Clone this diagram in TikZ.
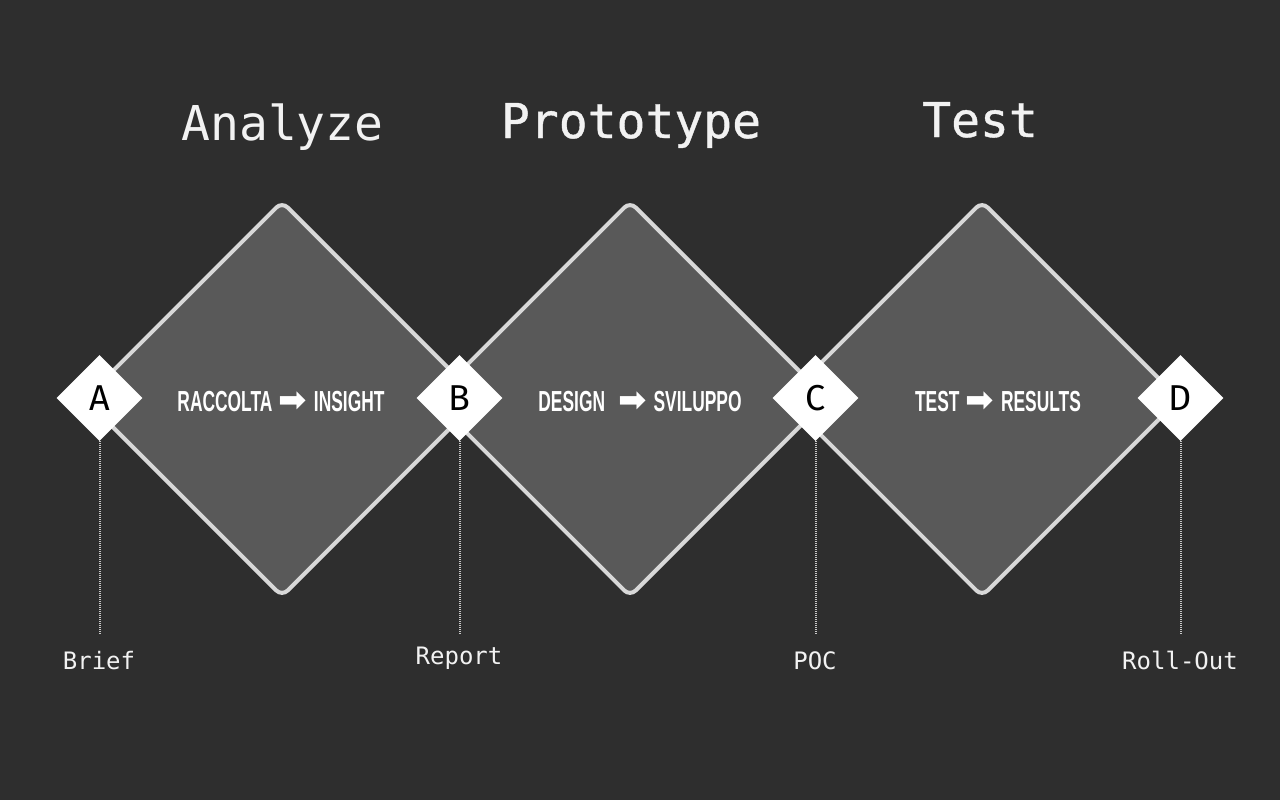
\documentclass[tikz,border=0pt]{standalone}
\usepackage{fontspec}
\usetikzlibrary{shapes.geometric}
\newfontfamily\monofont{DejaVu Sans Mono}
\newfontfamily\monomed[FakeBold=0.8]{DejaVu Sans Mono}
\newfontfamily\letterfont{Fira Sans}
\newfontfamily\condfont[FakeStretch=0.6]{Liberation Sans}
\newfontfamily\arrowfont{DejaVu Sans}
\definecolor{bg}{RGB}{46,46,46}
\definecolor{bigfill}{RGB}{89,89,89}
\definecolor{bigline}{RGB}{216,216,216}
\definecolor{dotcol}{RGB}{200,200,200}
\definecolor{txt}{RGB}{242,242,242}
\newcommand{\arr}{{\arrowfont\fontsize{34}{34}\selectfont ➡}}
\begin{document}
\begin{tikzpicture}[x=1pt,y=-1pt,
  big/.style={diamond, aspect=1, minimum width=396pt, minimum height=396pt, inner sep=0pt,
    fill=bigfill, draw=bigline, line width=4pt, rounded corners=8pt},
  gate/.style={diamond, aspect=1, minimum width=86pt, minimum height=86pt, inner sep=0pt,
    fill=white, text=black, font=\letterfont\fontsize{36}{36}\selectfont},
  title/.style={anchor=base, text=txt, inner sep=0pt},
  inner/.style={anchor=base, text=white, inner sep=0pt, font=\condfont\bfseries\fontsize{29}{29}\selectfont},
  lbl/.style={anchor=base, text=txt, inner sep=0pt, font=\monofont\fontsize{24}{24}\selectfont},
  dotline/.style={draw=dotcol, line width=2pt, dash pattern=on 1pt off 1pt}]
\fill[bg] (0,0) rectangle (1280,800);
\useasboundingbox (0,0) rectangle (1280,800);

% big diamonds
\node[big] (d1) at (282,399) {};
\node[big] (d2) at (630,399) {};
\node[big] (d3) at (982,399) {};

% titles
\node[title, font=\monofont\fontsize{48}{48}\selectfont] (t1) at (282.5,140) {Analyze};
\node[title, font=\monomed\fontsize{48}{48}\selectfont] (t2) at (631,138) {Prototype};
\node[title, font=\monomed\fontsize{48}{48}\selectfont] (t3) at (980,137) {Test};

% inner texts
\node[inner] (i1) at (281,411) {RACCOLTA\hspace{6pt}\arr\hspace{7pt}INSIGHT};
\node[inner] (i2) at (640,411) {DESIGN\hspace{13pt}\arr\hspace{7pt}SVILUPPO};
\node[inner] (i3) at (998,411) {TEST\hspace{6pt}\arr\hspace{7pt}RESULTS};

% gates
\node[gate] (A) at (99.5,398) {A};
\node[gate] (B) at (459.5,398) {B};
\node[gate] (C) at (815.5,398) {C};
\node[gate] (D) at (1180.5,398) {D};

% leader ends
\coordinate (Ae) at (99.5,635);
\coordinate (Be) at (459.5,635);
\coordinate (Ce) at (815.5,635);
\coordinate (De) at (1180.5,635);
\draw[dotline] (A.south) -- (Ae);
\draw[dotline] (B.south) -- (Be);
\draw[dotline] (C.south) -- (Ce);
\draw[dotline] (D.south) -- (De);

% labels
\node[lbl] (la) at (99,669) {Brief};
\node[lbl] (lb) at (459,664) {Report};
\node[lbl] (lc) at (815,669) {POC};
\node[lbl] (ld) at (1180,669) {Roll-Out};
\end{tikzpicture}
\end{document}
